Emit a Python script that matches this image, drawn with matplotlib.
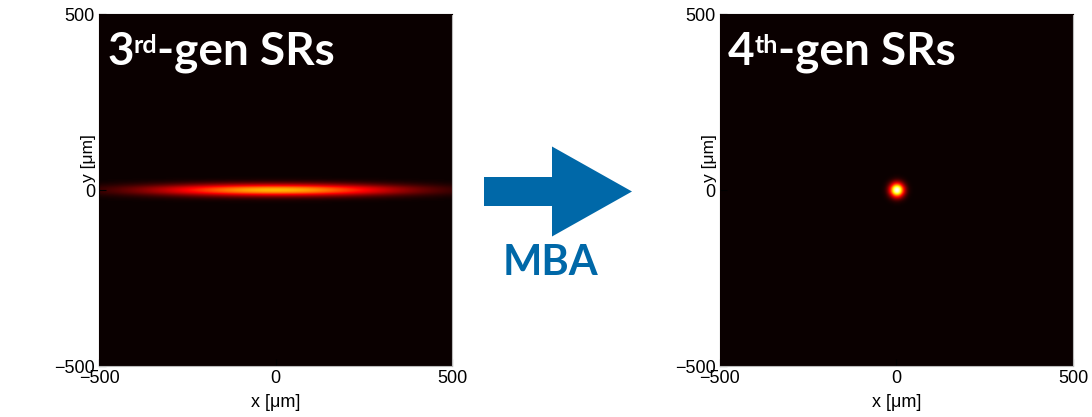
import numpy as np
import matplotlib
matplotlib.use("Agg")
import matplotlib.pyplot as plt
from matplotlib.patches import FancyArrow

# spot parameters (in um)
gen_numbers = ["3", "4"]
gen_suffix = ["rd", "th"]
sigma_x = [240, 14]
sigma_y = [12, 14]
peak = [0.64, 1.0]
axis_ticks = [-500, 0, 500]
tick_labels = ["\u2212500", "0", "500"]
arrow_label = "MBA"

grid = np.linspace(-500, 500, 401)
X, Y = np.meshgrid(grid, grid)

blue = "#0068a8"
tick_font = "Liberation Sans"
title_font = "Lato"

fig = plt.figure(figsize=(10.92, 4.17), dpi=100)
positions = [[0.0907, 0.1223, 0.3233, 0.8441],
             [0.6593, 0.1223, 0.3233, 0.8441]]

for i in range(2):
    ax = fig.add_axes(positions[i])
    img = peak[i] * np.exp(-X**2 / (2 * sigma_x[i]**2) - Y**2 / (2 * sigma_y[i]**2))
    ax.imshow(img, cmap="hot", vmin=0, vmax=1, origin="lower",
              extent=[-500, 500, -500, 500], interpolation="bilinear", aspect="auto")
    ax.set_xticks(axis_ticks)
    ax.set_yticks(axis_ticks)
    ax.set_xticklabels(tick_labels, fontfamily=tick_font, fontsize=13)
    ax.set_yticklabels(tick_labels, fontfamily=tick_font, fontsize=13)
    ax.tick_params(direction="in", length=5, color="black", pad=3)
    for side in ["right", "bottom"]:
        ax.spines[side].set_color("#bbbbbb")
    for side in ["top", "left"]:
        ax.spines[side].set_color("#0a0000")
    ax.set_xlabel("x [\u03bcm]", fontfamily=tick_font, fontsize=13)
    ax.set_ylabel("y [\u03bcm]", fontfamily=tick_font, fontsize=12.5)
    ax.xaxis.set_label_coords(0.5, -0.08)
    ax.yaxis.set_label_coords(-0.008, 0.59)

    t1 = ax.text(0.023, 0.855, gen_numbers[i], transform=ax.transAxes, va="baseline",
                 ha="left", color="white", fontsize=33, fontweight="bold",
                 fontfamily=title_font)
    t2 = ax.annotate(gen_suffix[i], xy=(1, 0.92), xycoords=t1, va="top", ha="left",
                     color="white", fontsize=18, fontweight="bold",
                     fontfamily=title_font)
    ax.annotate("-gen SRs", xy=(1, 0), xycoords=(t2, t1), va="bottom", ha="left",
                color="white", fontsize=33, fontweight="bold", fontfamily=title_font)

# overlay in pixel units for the arrow and its label
over = fig.add_axes([0, 0, 1, 1], facecolor="none")
over.set_xlim(0, 1092)
over.set_ylim(417, 0)
over.axis("off")
over.add_patch(FancyArrow(484, 191.5, 148, 0, width=29, head_width=90, head_length=80,
                          length_includes_head=True, color=blue, linewidth=0))
over.text(550, 275, arrow_label, ha="center", va="baseline", color=blue, fontsize=30,
          fontweight="bold", fontfamily=title_font)

fig.savefig("out.png", dpi=100)
